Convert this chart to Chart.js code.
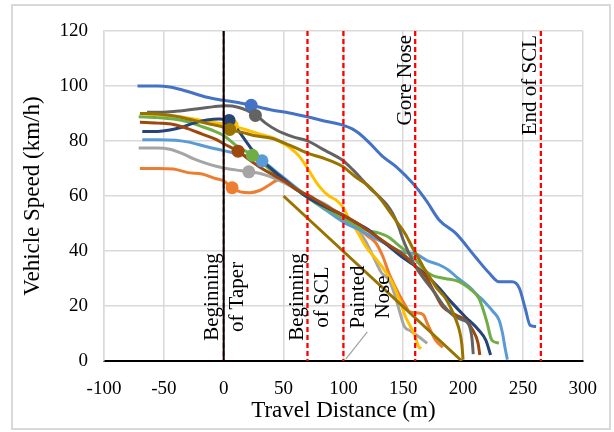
<!DOCTYPE html>
<html>
<head>
<meta charset="utf-8">
<script src="https://cdn.jsdelivr.net/npm/chart.js@4.4.1/dist/chart.umd.min.js"></script>
<style>
  html, body { margin: 0; padding: 0; background: #fff; }
  canvas { display: block; }
</style>
</head>
<body>
<canvas id="grafico" width="614" height="432"></canvas>
<script>
// speed profiles: [distance (m), speed (km/h)]
const azul = [[-72,100],[-55,100],[-45,99.6],[-30,98],[-15,96],[0,94.8],[12,94],[23,93],[40,91.3],[55,90.2],[70,88.8],[85,87.2],[100,85.7],[107,84.5],[113,82.8],[122,79.2],[133,74.3],[144,70.7],[158,64.6],[169,58.5],[180,51.3],[194,46.4],[210,38],[222,31.9],[230,28.8],[241,28.8],[247,26.5],[252,19],[256,13],[261,12.5]];
const laranja = [[-70,70],[-55,70],[-42,69.8],[-30,68.5],[-18,68],[-8,66.5],[0,65.5],[7,63],[14,61.5],[22,61.2],[30,62],[38,64],[46,65.8],[52,65.5],[60,63],[70,60],[80,57],[90,54],[100,51.5],[110,49],[120,45.5],[127,43],[133,38],[138,32],[146,24.7],[152,20],[155,18],[162,17.5],[167,16.7],[170,13.8],[174,10],[177,7.6],[183,5]];
const cinza = [[-71,77.5],[-55,77.5],[-45,77],[-35,75.5],[-25,73.5],[-12,71.5],[0,70.2],[10,69.5],[21,68.8],[32,68],[42,66.5],[52,64.5],[62,62],[72,59.5],[85,57],[100,52],[110,48.5],[118,44],[125,38],[132,32],[138,29.5],[143,24],[147,18],[151,12.5],[156,11],[163,8.8],[170,6.4]];
const amarelo = [[-70,90],[-55,89.5],[-40,89],[-25,88],[-12,87],[0,86.2],[7,85.5],[18,84.2],[30,82.5],[42,81],[50,79],[57,77],[63,74.5],[68,71.5],[73,68],[80,63.4],[88,60],[94,58.5],[99.5,56],[105,51.5],[111,47.5],[119,41.5],[130,35.6],[141,28.3],[147,22],[152,16],[159,10],[163,5.2],[165,4.5]];
const azulClaro = [[-68,80.5],[-55,80.5],[-40,80.3],[-28,79.5],[-15,78],[0,76.5],[10,75.5],[20,74.5],[32,72.8],[42,69.5],[52,66],[62,62.5],[72,59],[85,55],[100,50.5],[112,48],[125,45],[138,42],[150,39.5],[160,39],[170,36.5],[180,35],[188,33],[196,30],[205,27],[212,24],[219,21],[225,18],[230,15],[233,10],[235,5],[237,0.5]];
const verde = [[-71,88.8],[-55,88.5],[-42,88],[-30,87],[-20,85.5],[-10,84],[0,82],[10,78.5],[24,74.8],[35,71],[45,67.5],[55,64.5],[65,61],[75,58],[85,55.5],[100,52],[110,49.5],[120,47.5],[130,46.5],[138,45],[145,42.5],[152,40],[160,37],[168,33],[175,31],[185,30],[197,28.8],[207,25.8],[213,23],[216,19.7],[220,14],[224,7.6],[230,6.5]];
const azulEscuro = [[-68,83.5],[-55,83.5],[-45,84],[-35,85],[-25,86.5],[-14,87.6],[-4,88],[4,87.5],[10,85],[16,81.5],[24,76.7],[32,73],[42,69],[52,65.5],[62,62],[72,59],[85,56],[100,53],[112,50],[120,48],[130,44.5],[140,41],[150,37.5],[160,34.5],[170,31],[180,26.5],[190,21.5],[202,16],[213,11.3],[219,7.6],[223,2.2]];
const marrom = [[-70,86.8],[-55,86.5],[-42,86],[-30,84.5],[-18,82.5],[-6,80.5],[0,79],[12,76.3],[22,73],[32,70],[42,67.5],[52,65],[62,62],[70.5,60.3],[85,56.5],[100,53],[112,50],[122,47],[132,44],[142,41],[152,38],[160,34.5],[169,30.6],[176,25],[183,19.7],[194,16.7],[202,14.9],[208,11.3],[212.5,6.5],[214,2.2]];
const cinzaEscuro = [[-64,90.5],[-50,90.5],[-35,91],[-20,91.8],[-8,92.5],[2,92.8],[12,92.3],[20,91],[27,89.4],[35,86.5],[44,84],[58,81.5],[69,80.2],[85,76.5],[99.4,73],[108,69.5],[116,65.8],[123,62.5],[130,59.7],[136,57],[141,53.8],[146,49],[150,44],[155,39],[160,34.5],[168,29.5],[176,25],[184,20],[192,16.5],[199,15],[205,13],[207.5,8],[208.5,2.5]];
const oliva = [[-70,90],[-55,89.8],[-40,89],[-25,87.5],[-10,86],[0,85],[5,84],[15,83.2],[25,82],[40,81],[55,78.5],[70,75.6],[85,73.5],[99.4,70.7],[110,67],[120,64],[128,60.5],[136,56],[144,51],[152,46],[158,41],[162,38],[167,34],[172,30.6],[178,26.5],[185,23],[190,19],[194,15],[197,11],[199,6],[200,0.5]];
const olivaReta = [[50,60],[199,0]];
const guia = [[102,0.7],[120,10.6]];

// circle marker of each vehicle, same order as the series
const marcaDist = [23, 7, 21, 7, 32, 24, 4.5, 12, 26.5, 5];
const marcaVel = [93, 63, 68.8, 85.7, 72.8, 74.8, 87.5, 76.3, 89.3, 84.2];

// reference stations and their labels
const estacoes = [0, 70, 100, 160, 265];
const rotulos = [["Beginning", "of Taper"], ["Beginning", "of SCL"], ["Painted", "Nose"], ["Gore Nose"], ["End of SCL"]];

const series = [azul, laranja, cinza, amarelo, azulClaro, verde, azulEscuro, marrom, cinzaEscuro, oliva];
const cores = ["#4472C4", "#ED7D31", "#A5A5A5", "#FFC000", "#5B9BD5", "#70AD47", "#264478", "#9E480E", "#636363", "#997300"];

function pontos(lista) {
    return lista.map(p => ({ x: p[0], y: p[1] }));
}

const datasets = [];
series.forEach((s, i) => {
    datasets.push({
        data: pontos(s),
        showLine: true,
        borderColor: cores[i],
        borderWidth: 3,
        pointRadius: 0,
        cubicInterpolationMode: 'monotone',
        order: 40 - i
    });
});
datasets.push({
    data: pontos(olivaReta),
    showLine: true,
    borderColor: "#997300",
    borderWidth: 3,
    pointRadius: 0,
    order: 20
});
datasets.push({
    data: pontos(guia),
    showLine: true,
    borderColor: "#A5A5A5",
    borderWidth: 1.3,
    pointRadius: 0,
    order: 19
});
marcaDist.forEach((d, i) => {
    datasets.push({
        data: [{ x: d, y: marcaVel[i] }],
        pointRadius: 6.5,
        pointBackgroundColor: cores[i],
        pointBorderColor: cores[i],
        pointBorderWidth: 0,
        order: 18 - i
    });
});

const FONTE = "'Liberation Serif', 'Times New Roman', serif";

const moldura = {
    id: 'moldura',
    beforeDraw(chart) {
        const ctx = chart.ctx;
        ctx.save();
        ctx.fillStyle = '#fff';
        ctx.fillRect(0, 0, chart.width, chart.height);
        ctx.strokeStyle = '#d9d9d9';
        ctx.lineWidth = 2;
        ctx.strokeRect(12, 5, 598, 424);
        ctx.restore();
    },
    afterDatasetsDraw(chart) {
        const ctx = chart.ctx;
        const x = chart.scales.x;
        const area = chart.chartArea;
        ctx.save();
        estacoes.forEach((d, i) => {
            const px = x.getPixelForValue(d);
            ctx.beginPath();
            ctx.setLineDash([5, 3]);
            ctx.strokeStyle = '#FF0000';
            ctx.lineWidth = i === 0 ? 2.5 : 2.3;
            ctx.globalAlpha = i === 0 ? 0.45 : 1;
            ctx.moveTo(px, area.top);
            ctx.lineTo(px, area.bottom);
            ctx.stroke();
            ctx.globalAlpha = 1;
            if (i === 0) {
                ctx.beginPath();
                ctx.setLineDash([]);
                ctx.strokeStyle = '#000';
                ctx.lineWidth = 2;
                ctx.moveTo(px, area.top);
                ctx.lineTo(px, area.bottom);
                ctx.stroke();
            }
        });
        ctx.setLineDash([]);
        ctx.fillStyle = '#000';
        ctx.font = "21px " + FONTE;
        ctx.textBaseline = 'middle';
        rotulos.forEach((linhas, i) => {
            const px = x.getPixelForValue(estacoes[i]);
            ctx.save();
            if (linhas.length === 2) {
                // two-line labels centred on a common midpoint
                const centro = i === 2 ? px + 28 : (i === 1 ? px + 3 : px + 1);
                ctx.translate(centro, 297);
                ctx.rotate(-Math.PI / 2);
                ctx.textAlign = 'center';
                ctx.fillText(linhas[0], 0, -12.5);
                ctx.fillText(linhas[1], 0, 12.5);
            } else {
                ctx.translate(px - 10, 35);
                ctx.rotate(-Math.PI / 2);
                ctx.textAlign = 'right';
                ctx.fillText(linhas[0], 0, 0);
            }
            ctx.restore();
        });
        ctx.restore();
    }
};

const grafico = new Chart(document.getElementById('grafico'), {
    type: 'scatter',
    data: { datasets: datasets },
    options: {
        responsive: false,
        animation: false,
        devicePixelRatio: 1,
        layout: { padding: { left: 0, top: 31, right: 30, bottom: 0 } },
        plugins: {
            legend: { display: false },
            tooltip: { enabled: false }
        },
        scales: {
            x: {
                type: 'linear',
                min: -100,
                max: 300,
                afterFit: s => { s.height = 71; },
                ticks: { stepSize: 50, color: '#000', padding: 17, font: { family: FONTE, size: 19 } },
                grid: { color: '#d9d9d9', lineWidth: 1.5, drawTicks: false },
                border: { color: '#000', width: 2 },
                title: { display: true, text: 'Travel Distance (m)', color: '#000', padding: { top: 0, bottom: 7 }, font: { family: FONTE, size: 23 } }
            },
            y: {
                min: 0,
                max: 120,
                afterFit: s => { s.width = 104; },
                ticks: { stepSize: 20, color: '#000', padding: 16, font: { family: FONTE, size: 19 } },
                grid: { color: '#d9d9d9', lineWidth: 1.5, drawTicks: false },
                border: { color: '#d9d9d9', width: 1.5 },
                title: { display: true, text: 'Vehicle Speed (km/h)', color: '#000', padding: { top: 19, bottom: 0 }, font: { family: FONTE, size: 23 } }
            }
        }
    },
    plugins: [moldura]
});
</script>
</body>
</html>
